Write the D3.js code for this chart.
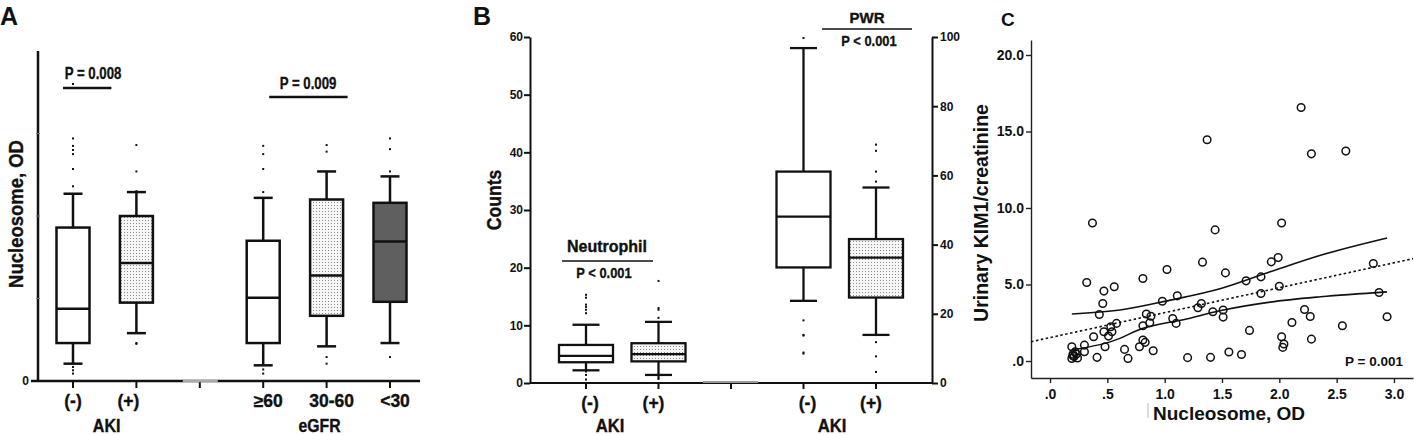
<!DOCTYPE html>
<html>
<head>
<meta charset="utf-8">
<script src="https://cdn.jsdelivr.net/npm/d3@7"></script>
<style>
  body { margin: 0; background: #fff; }
  svg { display: block; }
</style>
</head>
<body>
<div class="canvas"></div>
<script>
// ---- panel A: nucleosome OD by AKI and eGFR ----
const nucleoGroups = ['(-)', '(+)', 'gap', '≥60', '30-60', '<30'];
// [whisker low, Q1, median, Q3, whisker high]
const nucleoStats = [
  [0.21, 0.46, 0.875, 1.86, 2.27],
  [0.58, 0.95, 1.43, 2.0, 2.29],
  null,
  [0.19, 0.46, 1.01, 1.70, 2.22],
  [0.42, 0.79, 1.28, 2.20, 2.54],
  [0.46, 0.96, 1.69, 2.16, 2.48]
];
const nucleoOutliers = [
  [3.6, 2.94, 2.85, 2.80, 2.75, 2.57, 2.36, 0.17, 0.13, 0.09],
  [2.86, 2.54, 2.30, 0.46, 0.45],
  [],
  [2.85, 2.75, 2.57, 2.29, 0.14, 0.09],
  [2.86, 2.78, 0.29, 0.21],
  [2.94, 2.81, 2.54, 0.29]
];
const nucleoFill = ['white', 'dots', null, 'white', 'dots', 'dark'];

// ---- panel B: neutrophil (left axis) and PWR (right axis) ----
const countGroups = ['n-', 'n+', 'gap', 'p-', 'p+'];
const countLabels = ['(-)', '(+)', '', '(-)', '(+)'];
const neutroStats = [
  [2.2, 3.6, 4.7, 6.6, 10.1],
  [1.4, 3.75, 5.0, 6.9, 10.6]
];
const neutroOutliers = [
  [15.3, 14.8, 13.6, 13.2, 12.7, 12.1, 2.0, 1.4, 0.6],
  [17.7, 13.0, 12.7, 11.3, 1.15, 0.9, 0.7]
];
const pwrStats = [
  [23.75, 33.4, 48.1, 61.1, 96.8],
  [13.9, 24.7, 36.25, 41.6, 56.5]
];
const pwrOutliers = [
  [99.7, 18.1, 13.9, 13.7, 8.8, 8.5],
  [68.9, 67.1, 61.1, 58.2, 11.8, 7.7, 3.2]
];
const countTicks = [0, 10, 20, 30, 40, 50, 60];
const pwrTicks = [0, 20, 40, 60, 80, 100];

// ---- panel C: KIM1 vs nucleosome scatter ----
const scatterX = [0.19, 0.19, 0.2, 0.21, 0.23, 0.24, 0.30, 0.30, 0.32, 0.37, 0.38, 0.41, 0.43, 0.46,
  0.47, 0.47, 0.48, 0.51, 0.53, 0.54, 0.56, 0.58, 0.65, 0.68, 0.78, 0.81, 0.81, 0.81, 0.83, 0.84,
  0.87, 0.88, 0.90, 0.98, 1.02, 1.07, 1.10, 1.11, 1.20, 1.29, 1.32, 1.33, 1.37, 1.40, 1.42, 1.44,
  1.51, 1.51, 1.53, 1.56, 1.67, 1.71, 1.74, 1.84, 1.84, 1.93, 1.99, 2.0, 2.02, 2.02, 2.04, 2.03,
  2.11, 2.19, 2.22, 2.27, 2.28, 2.28, 2.55, 2.58, 2.82, 2.87, 2.94, 0.22, 0.2];
const scatterY = [0.93, 0.17, 0.45, 0.3, 0.45, 0.2, 1.04, 0.61, 5.13, 9.02, 1.59, 0.24, 3.04, 3.76,
  4.57, 1.91, 0.93, 1.63, 2.24, 1.91, 4.85, 2.46, 0.76, 0.17, 0.93, 1.37, 2.30, 5.39, 1.22, 3.07,
  2.5, 2.93, 0.67, 3.91, 5.98, 2.78, 2.46, 4.26, 0.22, 3.48, 3.76, 6.46, 14.46, 0.24, 3.22, 8.57,
  3.33, 2.87, 5.76, 0.59, 0.43, 5.24, 2.0, 5.5, 4.41, 6.48, 6.76, 4.89, 9.02, 1.59, 1.11, 0.89,
  2.52, 16.57, 3.37, 2.91, 1.43, 13.54, 2.30, 13.72, 6.37, 4.48, 2.89, 0.6, 0.35];
const fitX = [-0.166, 3.166];
const fitY = [1.26, 6.69];
const bandX = [0.19, 0.61, 1.05, 1.49, 1.92, 2.36, 2.94];
const bandUpper = [3.07, 3.33, 3.98, 4.74, 5.83, 6.91, 8.04];
const lowerX = [0.19, 0.61, 0.76, 1.19, 1.49, 1.92, 2.36, 2.94];
const bandLower = [0.72, 1.48, 2.0, 2.75, 3.3, 3.85, 4.2, 4.52];
const kimTicks = [0, 5, 10, 15, 20];
const odTicks = [0, 0.5, 1, 1.5, 2, 2.5, 3];

const sans = '"Liberation Sans", Arial, sans-serif';

const svg = d3.select('.canvas')
  .append('svg')
  .attr('width', 1414)
  .attr('height', 435);

// stipple fill used by the "(+)" / "30-60" boxes
const pat = svg.append('defs').append('pattern')
  .attr('id', 'dots')
  .attr('patternUnits', 'userSpaceOnUse')
  .attr('width', 3)
  .attr('height', 3);
pat.append('rect').attr('width', 3).attr('height', 3).attr('fill', '#f6f6f6');
pat.append('rect').attr('x', 1).attr('y', 1).attr('width', 1).attr('height', 1).attr('fill', '#8c8c8c');

const fills = { white: '#fff', dots: 'url(#dots)', dark: '#5f5f5f' };

function drawBox(g, cx, w, s, y, fill, sw, capW) {
  const [lo, q1, med, q3, hi] = s;
  g.append('line').attr('x1', cx).attr('x2', cx).attr('y1', y(hi)).attr('y2', y(q3));
  g.append('line').attr('x1', cx).attr('x2', cx).attr('y1', y(q1)).attr('y2', y(lo));
  g.append('line').attr('x1', cx - capW / 2).attr('x2', cx + capW / 2).attr('y1', y(hi)).attr('y2', y(hi));
  g.append('line').attr('x1', cx - capW / 2).attr('x2', cx + capW / 2).attr('y1', y(lo)).attr('y2', y(lo));
  g.append('rect')
    .attr('x', cx - w / 2).attr('y', y(q3))
    .attr('width', w).attr('height', y(q1) - y(q3))
    .attr('fill', fills[fill]);
  g.append('line').attr('x1', cx - w / 2).attr('x2', cx + w / 2).attr('y1', y(med)).attr('y2', y(med));
  g.selectAll('line, rect').attr('stroke', '#111').attr('stroke-width', sw);
}

function drawOutliers(g, cx, vals, y) {
  g.selectAll('rect.out')
    .data(vals)
    .enter()
    .append('rect')
    .attr('class', 'out')
    .attr('x', cx - 1)
    .attr('y', d => y(d) - 1)
    .attr('width', 2)
    .attr('height', 2)
    .attr('fill', '#111');
}

// text helper: sx squeezes the glyphs horizontally (the original uses a narrow face)
function label(g, x, y, txt, size, opts = {}) {
  const rot = opts.rotate ? ' rotate(-90)' : '';
  const sx = opts.sx || 1;
  return g.append('text')
    .attr('x', 0).attr('y', 0)
    .attr('transform', `translate(${x},${y})${rot} scale(${sx},1)`)
    .attr('text-anchor', opts.anchor || 'middle')
    .attr('font-family', sans)
    .attr('font-weight', opts.weight || 'bold')
    .attr('font-size', size)
    .attr('fill', '#111')
    .attr('stroke', opts.heavy ? '#111' : null)
    .attr('stroke-width', opts.heavy ? 0.35 : null)
    .text(txt);
}

// ================= panel A =================
const gA = svg.append('g');
const yA = d3.scaleLinear().domain([0, 4]).range([381, 51]);
const xA = d3.scalePoint().domain(nucleoGroups).range([73, 390]);

gA.append('line').attr('x1', 38).attr('x2', 38).attr('y1', 51).attr('y2', 382)
  .attr('stroke', '#111').attr('stroke-width', 2.5);
gA.append('line').attr('x1', 31).attr('x2', 420).attr('y1', yA(0)).attr('y2', yA(0))
  .attr('stroke', '#111').attr('stroke-width', 2.5);
gA.selectAll('line.ytick').data([1, 2, 3]).enter().append('line')
  .attr('x1', 36).attr('x2', 40).attr('y1', d => yA(d)).attr('y2', d => yA(d))
  .attr('stroke', '#777').attr('stroke-width', 1);
gA.selectAll('line.xtick').data(nucleoGroups).enter().append('line')
  .attr('x1', d => xA(d)).attr('x2', d => xA(d))
  .attr('y1', yA(0)).attr('y2', yA(0) + 7)
  .attr('stroke', '#111').attr('stroke-width', 2);
gA.append('line').attr('x1', xA('gap') - 17).attr('x2', xA('gap') + 18)
  .attr('y1', yA(0)).attr('y2', yA(0)).attr('stroke', '#aaa').attr('stroke-width', 2.5);
label(gA, 29, yA(0) + 4, '0', 12, { anchor: 'end' });

nucleoGroups.forEach((grp, i) => {
  if (!nucleoStats[i]) return;
  drawBox(gA.append('g'), xA(grp), 33, nucleoStats[i], yA, nucleoFill[i], 2.5, 19);
  drawOutliers(gA.append('g'), xA(grp), nucleoOutliers[i], yA);
  label(gA, xA(grp) + (i === 1 ? -8 : i > 2 ? 5 : 0), 407, grp, 17.5, { heavy: true });
});
label(gA, (xA('(-)') + xA('(+)')) / 2 + 2, 432, 'AKI', 17.5, { sx: 0.92, heavy: true });
label(gA, xA('30-60') - 7, 432, 'eGFR', 17.5, { sx: 0.9, heavy: true });

gA.append('line').attr('x1', xA('(-)') - 10).attr('x2', xA('(+)') - 25)
  .attr('y1', 88).attr('y2', 88).attr('stroke', '#111').attr('stroke-width', 2.5);
label(gA, 93, 79, 'P = 0.008', 16.5, { sx: 0.8, heavy: true });
gA.append('line').attr('x1', xA('≥60') + 6).attr('x2', xA('30-60') + 21)
  .attr('y1', 97).attr('y2', 97).attr('stroke', '#111').attr('stroke-width', 2.5);
label(gA, 308, 89, 'P = 0.009', 16.5, { sx: 0.8, heavy: true });

label(gA, 23, 214, 'Nucleosome, OD', 21, { rotate: true, sx: 0.88, heavy: true });
label(gA, 0, 25, 'A', 25, { anchor: 'start' });

// ================= panel B =================
const gB = svg.append('g');
const yB = d3.scaleLinear().domain([0, 60]).range([383, 37]);
const yB2 = d3.scaleLinear().domain([0, 100]).range([383, 37]);
const xB = d3.scalePoint().domain(countGroups).range([586, 876]);

const axL = gB.append('g').attr('transform', 'translate(530,0)')
  .call(d3.axisLeft(yB).tickValues(countTicks).tickSize(6).tickPadding(1).tickSizeOuter(0));
const axR = gB.append('g').attr('transform', 'translate(932,0)')
  .call(d3.axisRight(yB2).tickValues(pwrTicks).tickSize(6).tickPadding(2).tickSizeOuter(0));
[axL, axR].forEach(ax => {
  ax.selectAll('path, line').attr('stroke', '#111').attr('stroke-width', 2);
  ax.selectAll('text').attr('font-family', sans).attr('font-weight', 'bold')
    .attr('font-size', 12).attr('fill', '#111');
});
gB.append('line').attr('x1', 530).attr('x2', 932).attr('y1', yB(0)).attr('y2', yB(0))
  .attr('stroke', '#111').attr('stroke-width', 2);
gB.selectAll('line.xtick').data(countGroups).enter().append('line')
  .attr('x1', d => xB(d)).attr('x2', d => xB(d))
  .attr('y1', yB(0)).attr('y2', yB(0) + 6)
  .attr('stroke', '#111').attr('stroke-width', 2);
gB.append('line').attr('x1', xB('gap') - 28).attr('x2', xB('gap') + 27)
  .attr('y1', yB(0) - 1).attr('y2', yB(0) - 1).attr('stroke', '#999').attr('stroke-width', 2);

neutroStats.forEach((s, i) => {
  const cx = xB(countGroups[i]);
  drawBox(gB.append('g'), cx, 54, s, yB, i ? 'dots' : 'white', 2.3, 27);
  drawOutliers(gB.append('g'), cx, neutroOutliers[i], yB);
});
pwrStats.forEach((s, i) => {
  const cx = xB(countGroups[i + 3]);
  drawBox(gB.append('g'), cx, 54, s, yB2, i ? 'dots' : 'white', 2.3, 27);
  drawOutliers(gB.append('g'), cx, pwrOutliers[i], yB2);
});
countGroups.forEach((grp, i) => {
  if (!countLabels[i]) return;
  label(gB, xB(grp) + (i % 3 === 1 ? -5 : 4), 409, countLabels[i], 17.5, { heavy: true });
});
label(gB, 610, 432, 'AKI', 17.5, { sx: 0.95, heavy: true });
label(gB, 832, 432, 'AKI', 17.5, { sx: 0.95, heavy: true });

label(gB, 607, 252, 'Neutrophil', 16, { heavy: true });
gB.append('line').attr('x1', 562).attr('x2', 653).attr('y1', 261).attr('y2', 261)
  .attr('stroke', '#111').attr('stroke-width', 1.5);
label(gB, 604, 278, 'P < 0.001', 15, { sx: 0.86, heavy: true });
label(gB, 867, 23, 'PWR', 15, { heavy: true });
gB.append('line').attr('x1', 822).attr('x2', 912).attr('y1', 29).attr('y2', 29)
  .attr('stroke', '#111').attr('stroke-width', 1.5);
label(gB, 869, 46, 'P < 0.001', 15, { sx: 0.86, heavy: true });

label(gB, 501, 200, 'Counts', 20.5, { rotate: true, sx: 0.86, heavy: true });
label(gB, 473, 25, 'B', 25, { anchor: 'start' });

// ================= panel C =================
const gC = svg.append('g');
const xC = d3.scaleLinear().domain([-0.166, 3.166]).range([1031, 1413]);
const yC = d3.scaleLinear().domain([-1.11, 20.98]).range([378, 40]);

const axCy = gC.append('g').attr('transform', 'translate(1031,0)')
  .call(d3.axisLeft(yC).tickValues(kimTicks).tickSize(5).tickPadding(2).tickSizeOuter(0)
    .tickFormat(d => d === 0 ? '.0' : d.toFixed(1)));
const axCx = gC.append('g').attr('transform', 'translate(0,378)')
  .call(d3.axisBottom(xC).tickValues(odTicks).tickSize(5).tickPadding(6).tickSizeOuter(0)
    .tickFormat(d => d < 1 ? '.' + d.toFixed(1).slice(2) : d.toFixed(1)));
[axCy, axCx].forEach(ax => {
  ax.selectAll('path, line').attr('stroke', '#222').attr('stroke-width', 1.4);
  ax.selectAll('text').attr('font-family', sans).attr('font-weight', 'bold')
    .attr('font-size', 14).attr('fill', '#111');
});

const lineGen = d3.line().x(d => xC(d[0])).y(d => yC(d[1]));
const curveGen = d3.line().curve(d3.curveMonotoneX).x(d => xC(d[0])).y(d => yC(d[1]));
gC.append('path')
  .attr('d', lineGen(fitX.map((x, i) => [x, fitY[i]])))
  .attr('fill', 'none').attr('stroke', '#111').attr('stroke-width', 1.6)
  .attr('stroke-dasharray', '2.5,2.5');
gC.append('path')
  .attr('d', curveGen(bandX.map((x, i) => [x, bandUpper[i]])))
  .attr('fill', 'none').attr('stroke', '#111').attr('stroke-width', 1.6);
gC.append('path')
  .attr('d', curveGen(lowerX.map((x, i) => [x, bandLower[i]])))
  .attr('fill', 'none').attr('stroke', '#111').attr('stroke-width', 1.6);

gC.selectAll('circle')
  .data(scatterX.map((x, i) => [x, scatterY[i]]))
  .enter()
  .append('circle')
  .attr('cx', d => xC(d[0]))
  .attr('cy', d => yC(d[1]))
  .attr('r', 3.8)
  .attr('fill', 'none')
  .attr('stroke', '#111')
  .attr('stroke-width', 1.5);

label(gC, 1403, 366, 'P = 0.001', 13.5, { anchor: 'end' });
label(gC, 1229, 420, 'Nucleosome, OD', 19);
gC.append('line').attr('x1', 1148).attr('x2', 1148).attr('y1', 403).attr('y2', 418)
  .attr('stroke', '#bbb').attr('stroke-width', 1);
label(gC, 988, 213, 'Urinary KIM1/creatinine', 19.5, { rotate: true });
label(gC, 1001, 26, 'C', 19, { anchor: 'start' });
</script>
</body>
</html>
